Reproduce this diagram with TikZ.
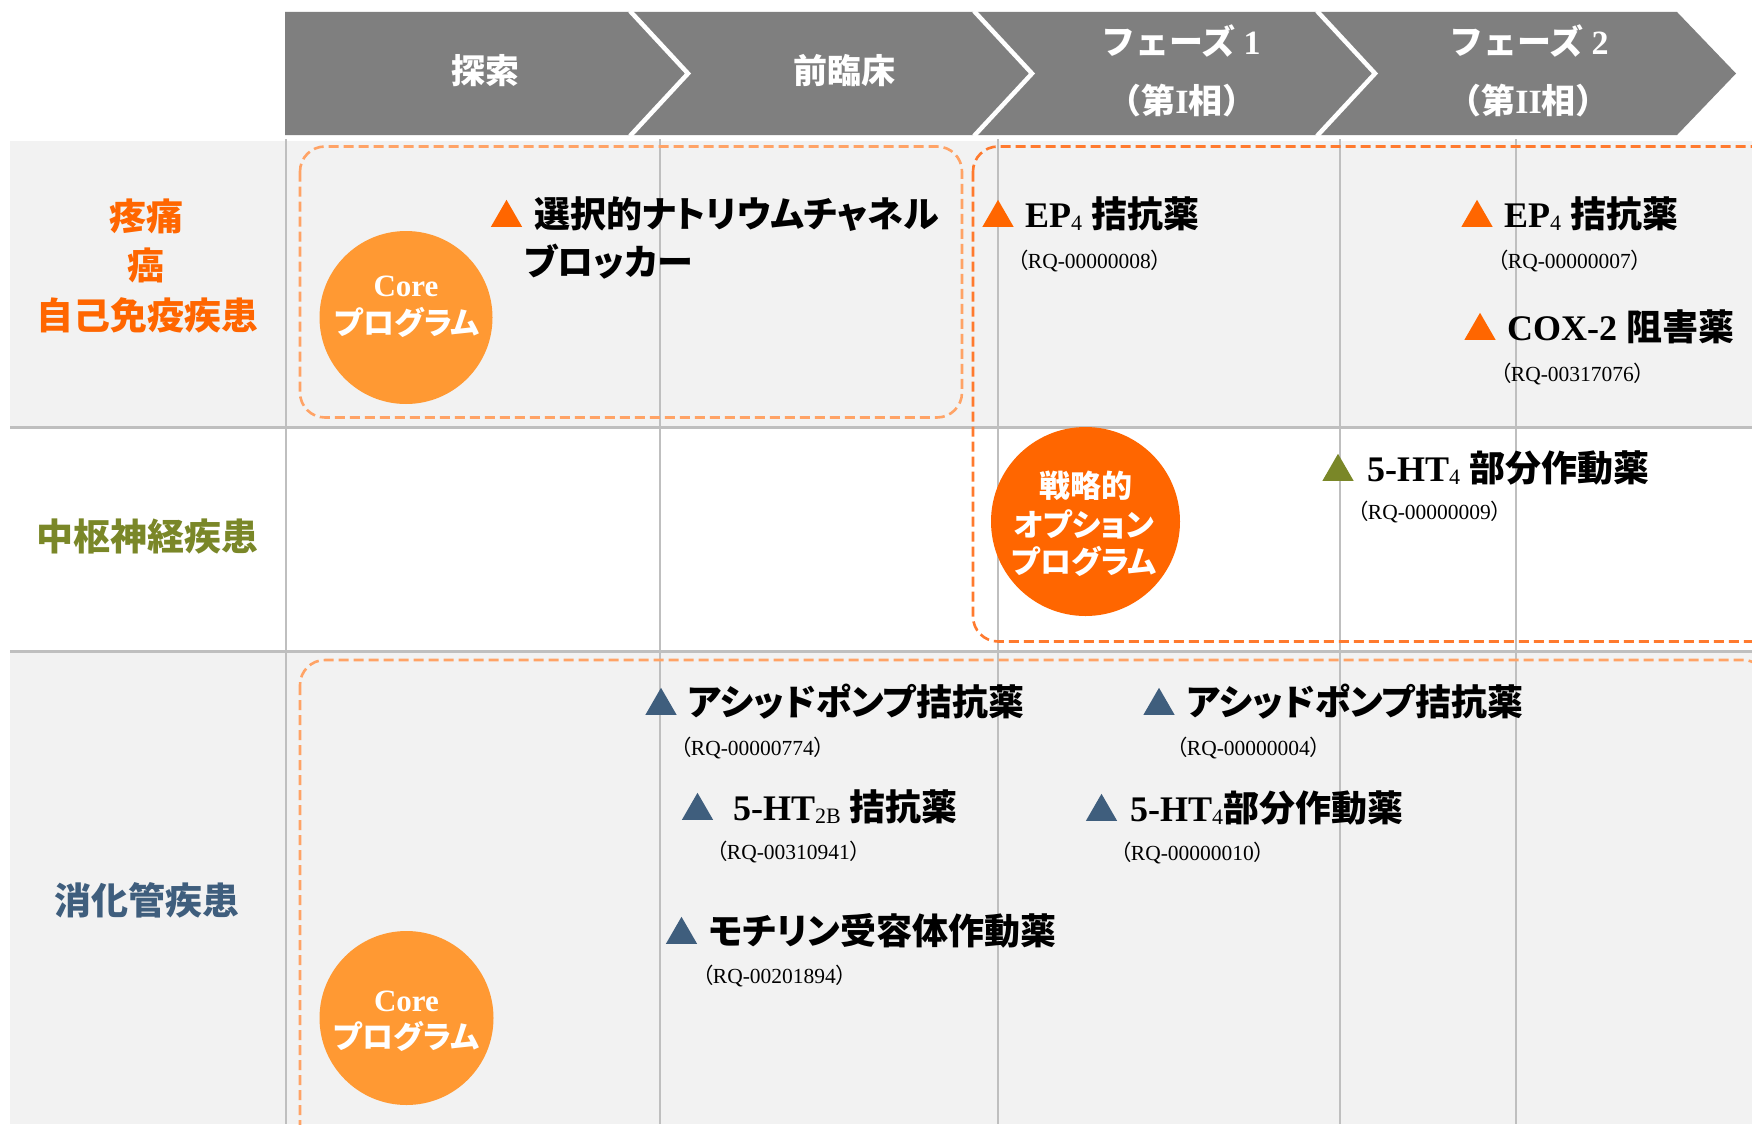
\documentclass[tikz,border=0pt]{standalone}
\usepackage{fontspec}
\setmainfont{Liberation Serif}
\newfontfamily\jp[RawFeature=+palt]{Noto Sans CJK JP}
\newfontfamily\jpn{Noto Sans CJK JP}
\usetikzlibrary{shapes.geometric}
\definecolor{hdr}{RGB}{127,127,127}
\definecolor{rowbg}{RGB}{242,242,242}
\definecolor{gridc}{RGB}{191,191,191}
\definecolor{org}{RGB}{255,102,0}
\definecolor{olv}{RGB}{122,135,40}
\definecolor{slb}{RGB}{63,94,125}
\definecolor{corec}{RGB}{255,153,51}
\definecolor{boxl}{RGB}{255,163,102}
\definecolor{boxd}{RGB}{255,122,46}
\newcommand\sbx[1]{\raisebox{-3.5pt}{\fontsize{22}{22}\selectfont\mdseries #1}}
\newcommand\J[1]{{\jp #1}}
\begin{document}
\begin{tikzpicture}[x=1pt,y=-1pt,
  hdtxt/.style={text=white, inner sep=0, font=\fontsize{34}{34}\selectfont\jpn\bfseries},
  rowlab/.style={inner sep=0, font=\fontsize{37}{37}\selectfont\jp\bfseries},
  itm/.style={anchor=base west, inner sep=0, font=\fontsize{36}{36}\selectfont\bfseries},
  rq/.style={anchor=base west, inner sep=0, font=\fontsize{21.5}{21.5}\selectfont},
  tri/.style={regular polygon, regular polygon sides=3, minimum size=36pt, inner sep=0pt, anchor=south, fill=#1},
  circ/.style={circle, inner sep=0pt, minimum size=#1},
  ctxt/.style={text=white, inner sep=0, font=\fontsize{31}{31}\selectfont\bfseries},
  gline/.style={draw=gridc, line width=3pt},
  vline/.style={draw=gridc, line width=1.6pt},
  dbox/.style={draw=#1, line width=2.6pt, dash pattern=on 10pt off 5pt, rounded corners=25pt},
]
\useasboundingbox (0,0) rectangle (1752,1124);
\clip (0,0) rectangle (1752,1124);
\fill[white] (0,0) rectangle (1752,1124);
% row backgrounds
\fill[rowbg] (10,141) rectangle (1752,427);
\fill[rowbg] (10,651) rectangle (1752,1124);
% grid
\draw[gline] (10,427) -- (1752,427);
\draw[gline] (10,651) -- (1752,651);
\foreach \x in {286,660,998,1340,1516} \draw[vline] (\x,139) -- (\x,1124);
% header chevrons
\fill[hdr] (285,12) -- (630,12) -- (688,73.5) -- (630,135) -- (285,135) -- cycle;
\fill[hdr] (630,12) -- (974,12) -- (1032,73.5) -- (974,135) -- (630,135) -- (688,73.5) -- cycle;
\fill[hdr] (974,12) -- (1317,12) -- (1375,73.5) -- (1317,135) -- (974,135) -- (1032,73.5) -- cycle;
\fill[hdr] (1317,12) -- (1677,12) -- (1736,73.5) -- (1677,135) -- (1317,135) -- (1375,73.5) -- cycle;
\draw[white, line width=4.5pt] (630,11) -- (688,73.5) -- (630,136);
\draw[white, line width=4.5pt] (974,11) -- (1032,73.5) -- (974,136);
\draw[white, line width=4.5pt] (1317,11) -- (1375,73.5) -- (1317,136);
\node[hdtxt] (h1) at (485,71) {探索};
\node[hdtxt] (h2) at (844,71) {前臨床};
\node[hdtxt] (h3a) at (1181,41) {フェーズ {\rmfamily 1}};
\node[hdtxt] (h3b) at (1182,100.5) {（第{\rmfamily I}相）};
\node[hdtxt] (h4a) at (1529,41) {フェーズ {\rmfamily 2}};
\node[hdtxt] (h4b) at (1528.5,100.5) {（第{\rmfamily II}相）};
% row labels
\node[rowlab, text=org] (l1a) at (146,216.5) {疼痛};
\node[rowlab, text=org] (l1b) at (146,265.5) {癌};
\node[rowlab, text=org] (l1c) at (147,315) {自己免疫疾患};
\node[rowlab, text=olv] (l2) at (147,537) {中枢神経疾患};
\node[rowlab, text=slb] (l3) at (147,900) {消化管疾患};
% dashed program boxes
\draw[dbox=boxl] (300,146.5) rectangle (962,417.5);
\draw[dbox=boxd] (973,146.5) rectangle (1778,641.5);
\draw[dbox=boxl] (300,660) rectangle (1768,1150);
% circles
\node[circ=173pt, fill=corec] (c1) at (406,317.5) {};
\node[ctxt] (c1a) at (406,286) {Core};
\node[ctxt] (c1b) at (407,322.5) {\J{プログラム}};
\node[circ=189pt, fill=org] (c2) at (1085.5,521.5) {};
\node[ctxt] (c2a) at (1085.5,486) {\J{戦略的}};
\node[ctxt] (c2b) at (1084,524.5) {\J{オプション}};
\node[ctxt] (c2c) at (1084,561.5) {\J{プログラム}};
\node[circ=174pt, fill=corec] (c3) at (406.5,1018) {};
\node[ctxt] (c3a) at (406.5,1001) {Core};
\node[ctxt] (c3b) at (406.5,1036.5) {\J{プログラム}};
% row 1 items
\node[tri=org] (t1) at (506.5,227) {};
\node[itm] (i1a) at (534,227) {\J{選択的ナトリウムチャネル}};
\node[itm] (i1b) at (524,275) {\J{ブロッカー}};
\node[tri=org] (t2) at (998,227) {};
\node[itm] (i2) at (1025,227) {EP\sbx{4} \J{拮抗薬}};
\node[rq] (r2) at (1017,268) {\J{（}RQ-00000008\J{）}};
\node[tri=org] (t3) at (1477,227) {};
\node[itm] (i3) at (1504,227) {EP\sbx{4} \J{拮抗薬}};
\node[rq] (r3) at (1497,268) {\J{（}RQ-00000007\J{）}};
\node[tri=org] (t4) at (1480,340) {};
\node[itm] (i4) at (1507,340) {COX-2 \J{阻害薬}};
\node[rq] (r4) at (1500,381) {\J{（}RQ-00317076\J{）}};
% row 2 items
\node[tri=olv] (t5) at (1338,481) {};
\node[itm] (i5) at (1367,481) {5-HT\sbx{4} \J{部分作動薬}};
\node[rq] (r5) at (1357,519) {\J{（}RQ-00000009\J{）}};
% row 3 items
\node[tri=slb] (t6) at (661,715) {};
\node[itm] (i6) at (688,715) {\J{アシッドポンプ拮抗薬}};
\node[rq] (r6) at (680,755) {\J{（}RQ-00000774\J{）}};
\node[tri=slb] (t7) at (697.5,820) {};
\node[itm] (i7) at (733,820) {5-HT\sbx{2B} \J{拮抗薬}};
\node[rq] (r7) at (716,859) {\J{（}RQ-00310941\J{）}};
\node[tri=slb] (t8) at (681.5,944) {};
\node[itm] (i8) at (708.5,944) {\J{モチリン受容体作動薬}};
\node[rq] (r8) at (702,983) {\J{（}RQ-00201894\J{）}};
\node[tri=slb] (t9) at (1159,715) {};
\node[itm] (i9) at (1187,715) {\J{アシッドポンプ拮抗薬}};
\node[rq] (r9) at (1176,755) {\J{（}RQ-00000004\J{）}};
\node[tri=slb] (t10) at (1101.5,821) {};
\node[itm] (i10) at (1130,821) {5-HT\sbx{4}\J{部分作動薬}};
\node[rq] (r10) at (1120,860) {\J{（}RQ-00000010\J{）}};
\end{tikzpicture}
\end{document}
